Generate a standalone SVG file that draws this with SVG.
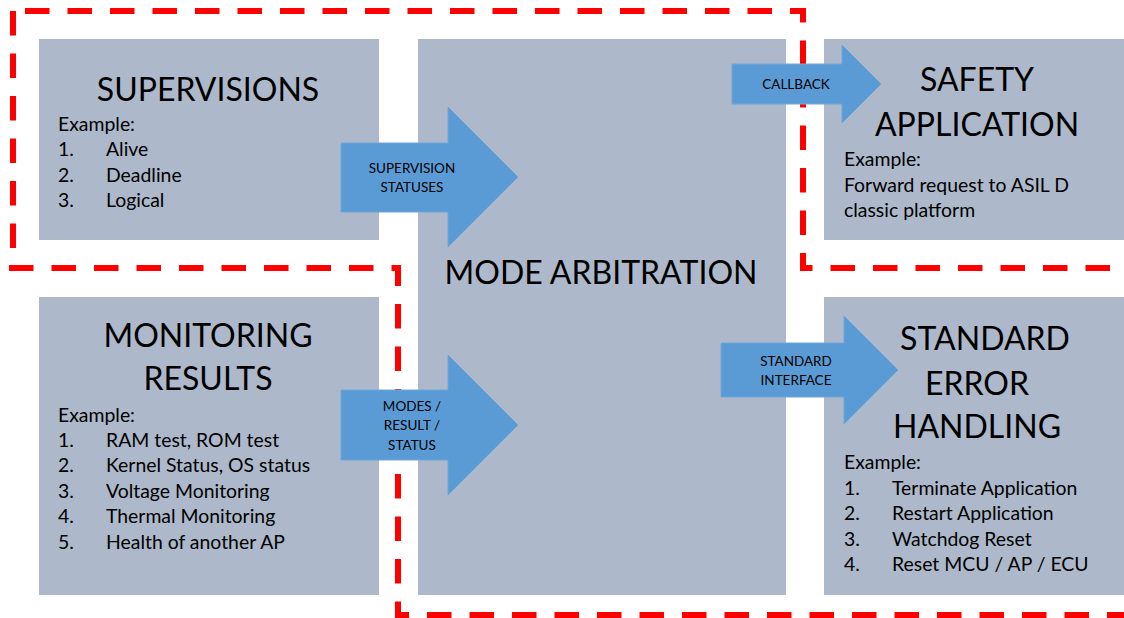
<svg xmlns="http://www.w3.org/2000/svg" width="1124" height="618" viewBox="0 0 1124 618">
  <style>
    .box { fill: #ADB9CA; }
    .title { font-family: Lato, "Liberation Sans", sans-serif; font-size: 32px; fill: #000; text-anchor: middle; }
    .body { font-family: Lato, "Liberation Sans", sans-serif; font-size: 19.4px; fill: #000; }
    .arrow { fill: #5B9BD5; stroke: #6FA6DA; stroke-width: 1; }
    .alabel { font-family: Lato, "Liberation Sans", sans-serif; font-size: 13.5px; fill: #000; text-anchor: middle; }
    .zone { fill: none; stroke: #FF0000; stroke-width: 6; stroke-dasharray: 24.5 18; }
  </style>

  <rect width="1124" height="618" fill="#FFFFFF"/>

  <!-- blocks -->
  <g id="supervisions">
    <rect class="box" x="39" y="39" width="340" height="201"/>
    <text class="title" x="208" y="101">SUPERVISIONS</text>
    <text class="body" x="58" y="131">Example:</text>
    <text class="body" x="58" y="156">1.</text><text class="body" x="106" y="156">Alive</text>
    <text class="body" x="58" y="182">2.</text><text class="body" x="106" y="182">Deadline</text>
    <text class="body" x="58" y="207">3.</text><text class="body" x="106" y="207">Logical</text>
  </g>

  <g id="monitoring-results">
    <rect class="box" x="39" y="297" width="340" height="298"/>
    <text class="title" x="208" y="347">MONITORING</text>
    <text class="title" x="208" y="390">RESULTS</text>
    <text class="body" x="58" y="422">Example:</text>
    <text class="body" x="58" y="447">1.</text><text class="body" x="106" y="447">RAM test, ROM test</text>
    <text class="body" x="58" y="472">2.</text><text class="body" x="106" y="472">Kernel Status, OS status</text>
    <text class="body" x="58" y="498">3.</text><text class="body" x="106" y="498">Voltage Monitoring</text>
    <text class="body" x="58" y="523">4.</text><text class="body" x="106" y="523">Thermal Monitoring</text>
    <text class="body" x="58" y="549">5.</text><text class="body" x="106" y="549">Health of another AP</text>
  </g>

  <g id="mode-arbitration">
    <rect class="box" x="418" y="39" width="368" height="556"/>
    <text class="title" x="601" y="284">MODE ARBITRATION</text>
  </g>

  <g id="safety-application">
    <rect class="box" x="824" y="39" width="300" height="201"/>
    <text class="title" x="977" y="91">SAFETY</text>
    <text class="title" x="977" y="136">APPLICATION</text>
    <text class="body" x="844" y="166">Example:</text>
    <text class="body" x="844" y="192">Forward request to ASIL D</text>
    <text class="body" x="844" y="217">classic platform</text>
  </g>

  <g id="standard-error-handling">
    <rect class="box" x="824" y="297" width="300" height="298"/>
    <text class="title" x="985" y="350">STANDARD</text>
    <text class="title" x="977" y="395">ERROR</text>
    <text class="title" x="977" y="438">HANDLING</text>
    <text class="body" x="844" y="469">Example:</text>
    <text class="body" x="844" y="495">1.</text><text class="body" x="892" y="495">Terminate Application</text>
    <text class="body" x="844" y="520">2.</text><text class="body" x="892" y="520">Restart Application</text>
    <text class="body" x="844" y="546">3.</text><text class="body" x="892" y="546">Watchdog Reset</text>
    <text class="body" x="844" y="571">4.</text><text class="body" x="892" y="571">Reset MCU / AP / ECU</text>
  </g>

  <!-- dashed zone outlines -->
  <g id="zones">
    <path class="zone" d="M13 11 V248"/>
    <path class="zone" d="M25 11 H803 V268 H1124"/>
    <path class="zone" d="M9 268 H398 V615 H1124"/>
  </g>

  <!-- connectors -->
  <g id="connectors">
    <g id="supervision-statuses">
      <polygon class="arrow" points="341,143 448,143 448,107 518,177 448,247 448,212 341,212"/>
      <text class="alabel" x="412" y="173">SUPERVISION</text>
      <text class="alabel" x="412" y="192">STATUSES</text>
    </g>
    <g id="modes-result-status">
      <polygon class="arrow" points="341,390 448,390 448,355 518,425 448,495 448,460 341,460"/>
      <text class="alabel" x="412" y="411">MODES /</text>
      <text class="alabel" x="412" y="430">RESULT /</text>
      <text class="alabel" x="412" y="450">STATUS</text>
    </g>
    <g id="callback">
      <polygon class="arrow" points="732,64 842,64 842,45 881,84 842,123 842,104 732,104"/>
      <text class="alabel" x="796" y="89">CALLBACK</text>
    </g>
    <g id="standard-interface">
      <polygon class="arrow" points="721,343 844,343 844,316 898,370 844,424 844,397 721,397"/>
      <text class="alabel" x="796" y="366">STANDARD</text>
      <text class="alabel" x="796" y="385">INTERFACE</text>
    </g>
  </g>
</svg>
